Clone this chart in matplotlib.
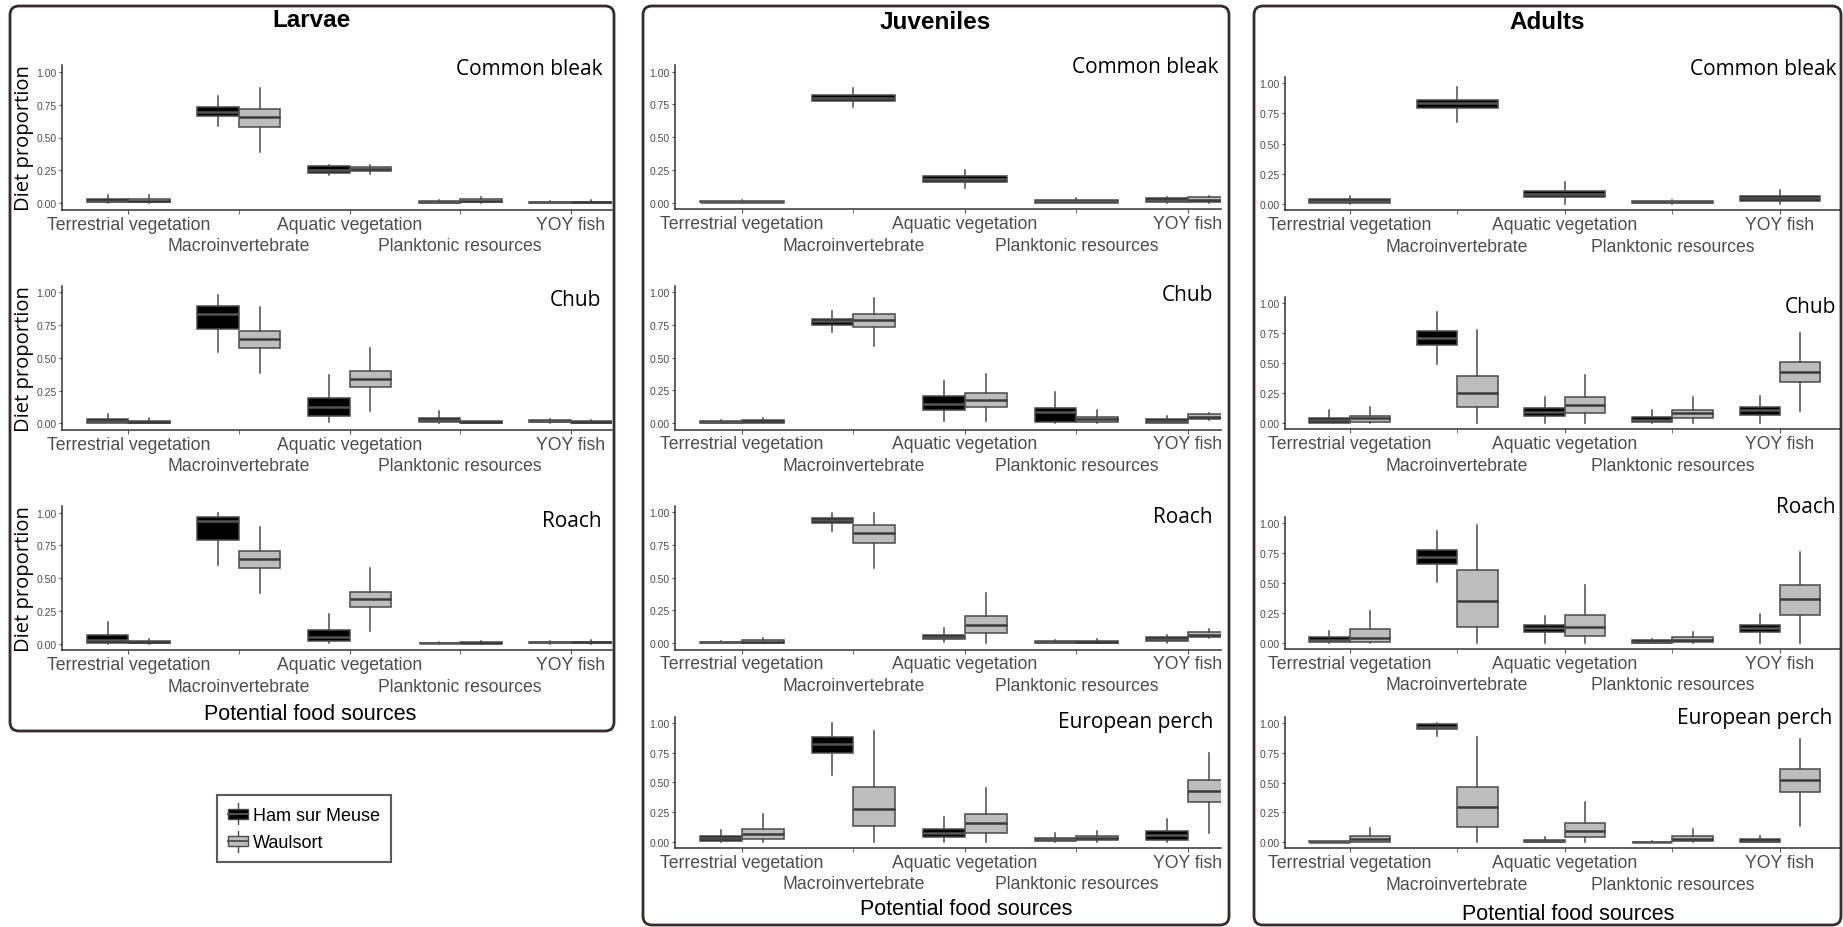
import matplotlib.pyplot as plt
from matplotlib.patches import FancyBboxPatch, Rectangle
from matplotlib.legend_handler import HandlerBase
from matplotlib.lines import Line2D

W, H = 1843, 928

sources = ["Terrestrial vegetation", "Macroinvertebrate", "Aquatic vegetation",
           "Planktonic resources", "YOY fish"]
sites = ["Ham sur Meuse", "Waulsort"]
stages = ["Larvae", "Juveniles", "Adults"]

# one row per food source: whisker low, q1, median, q3, whisker high
larvae_bleak_ham = [[0, 0.008, 0.02, 0.03, 0.06], [0.585, 0.666, 0.696, 0.729, 0.818],
                    [0.215, 0.23, 0.256, 0.281, 0.29], [0, 0.003, 0.01, 0.02, 0.025],
                    [0, 0.003, 0.007, 0.012, 0.02]]
larvae_bleak_waul = [[0, 0.008, 0.02, 0.03, 0.065], [0.387, 0.582, 0.653, 0.716, 0.876],
                     [0.223, 0.248, 0.262, 0.273, 0.294], [0, 0.008, 0.018, 0.033, 0.05],
                     [0, 0.004, 0.008, 0.013, 0.022]]
larvae_chub_ham = [[0, 0.003, 0.018, 0.033, 0.071], [0.547, 0.72, 0.835, 0.898, 0.98],
                   [0.008, 0.059, 0.122, 0.196, 0.372], [0, 0.008, 0.025, 0.041, 0.092],
                   [0.003, 0.01, 0.018, 0.025, 0.03]]
larvae_chub_waul = [[0, 0, 0.01, 0.02, 0.038], [0.382, 0.573, 0.644, 0.702, 0.89],
                    [0.092, 0.275, 0.338, 0.397, 0.578], [0, 0, 0.008, 0.018, 0.02],
                    [0, 0.003, 0.01, 0.018, 0.025]]
larvae_roach_ham = [[0, 0.005, 0.03, 0.069, 0.168], [0.603, 0.791, 0.939, 0.964, 0.998],
                    [0.003, 0.018, 0.048, 0.104, 0.229], [0, 0.002, 0.005, 0.008, 0.012],
                    [0, 0.005, 0.01, 0.015, 0.02]]
larvae_roach_waul = [[0, 0.003, 0.012, 0.023, 0.036], [0.384, 0.575, 0.646, 0.707, 0.893],
                     [0.094, 0.277, 0.338, 0.397, 0.578], [0, 0.003, 0.007, 0.012, 0.018],
                     [0, 0.005, 0.01, 0.016, 0.025]]

juv_bleak_ham = [[0, 0.003, 0.008, 0.015, 0.02], [0.728, 0.779, 0.80, 0.824, 0.875],
                 [0.109, 0.155, 0.18, 0.206, 0.249], [0, 0, 0.01, 0.02, 0.036],
                 [0, 0.005, 0.02, 0.036, 0.046]]
juv_bleak_waul = [None, None, None, None, [0, 0.005, 0.022, 0.04, 0.053]]
juv_chub_ham = [[0, 0, 0.008, 0.018, 0.025], [0.694, 0.75, 0.783, 0.796, 0.86],
                [0.013, 0.099, 0.145, 0.204, 0.324], [0, 0.01, 0.087, 0.112, 0.235],
                [0, 0, 0.015, 0.031, 0.056]]
juv_chub_waul = [[0, 0.003, 0.012, 0.023, 0.038], [0.592, 0.732, 0.788, 0.832, 0.954],
                 [0.013, 0.125, 0.176, 0.227, 0.375], [0, 0.008, 0.031, 0.048, 0.102],
                 [0.02, 0.031, 0.048, 0.066, 0.077]]
juv_roach_ham = [[0, 0.001, 0.005, 0.01, 0.015], [0.855, 0.918, 0.939, 0.957, 0.992],
                 [0.005, 0.028, 0.046, 0.064, 0.112], [0, 0, 0.008, 0.018, 0.025],
                 [0, 0.013, 0.031, 0.043, 0.061]]
juv_roach_waul = [[0, 0, 0.01, 0.02, 0.036], [0.574, 0.765, 0.842, 0.903, 0.995],
                  [0.003, 0.077, 0.135, 0.204, 0.385], [0, 0.002, 0.01, 0.018, 0.028],
                  [0.036, 0.043, 0.064, 0.082, 0.105]]
juv_perch_ham = [[0, 0.011, 0.034, 0.053, 0.103], [0.561, 0.749, 0.818, 0.877, 0.997],
                 [0, 0.045, 0.078, 0.109, 0.207], [0, 0.006, 0.022, 0.036, 0.073],
                 [0, 0.017, 0.056, 0.089, 0.19]]
juv_perch_waul = [[0, 0.022, 0.064, 0.109, 0.232], [0, 0.137, 0.279, 0.458, 0.933],
                  [0, 0.078, 0.156, 0.235, 0.453], [0, 0.014, 0.034, 0.053, 0.095],
                  [0.073, 0.338, 0.43, 0.52, 0.746]]

adult_bleak_ham = [[0, 0.008, 0.025, 0.039, 0.069], [0.682, 0.793, 0.834, 0.865, 0.967],
                   [0.003, 0.055, 0.086, 0.11, 0.182], [0, 0.006, 0.015, 0.025, 0.036],
                   [0, 0.022, 0.047, 0.069, 0.119]]
adult_bleak_waul = [None, None, None, None, None]
adult_chub_ham = [[0, 0.006, 0.028, 0.044, 0.111], [0.494, 0.653, 0.711, 0.767, 0.931],
                  [0, 0.061, 0.094, 0.128, 0.222], [0, 0.008, 0.031, 0.05, 0.111],
                  [0, 0.072, 0.108, 0.139, 0.231]]
adult_chub_waul = [[0, 0.014, 0.042, 0.064, 0.133], [0, 0.133, 0.253, 0.397, 0.778],
                   [0, 0.089, 0.15, 0.217, 0.403], [0, 0.042, 0.083, 0.114, 0.217],
                   [0.1, 0.342, 0.431, 0.508, 0.75]]
adult_roach_ham = [[0, 0.003, 0.025, 0.045, 0.095], [0.504, 0.66, 0.716, 0.774, 0.936],
                   [0, 0.086, 0.12, 0.15, 0.226], [0, 0, 0.01, 0.02, 0.03],
                   [0, 0.086, 0.12, 0.15, 0.24]]
adult_roach_waul = [[0, 0.008, 0.042, 0.114, 0.262], [0, 0.134, 0.351, 0.604, 0.983],
                    [0, 0.058, 0.131, 0.234, 0.485], [0, 0.008, 0.025, 0.045, 0.092],
                    [0, 0.234, 0.365, 0.482, 0.76]]
adult_perch_ham = [[0, 0, 0.005, 0.011, 0.012], [0.894, 0.95, 0.969, 0.992, 1.0],
                   [0, 0.003, 0.013, 0.022, 0.042], [0, 0, 0.003, 0.006, 0.01],
                   [0, 0, 0.014, 0.025, 0.05]]
adult_perch_waul = [[0, 0.006, 0.028, 0.056, 0.117], [0, 0.126, 0.293, 0.461, 0.885],
                    [0, 0.045, 0.095, 0.162, 0.335], [0, 0.008, 0.031, 0.056, 0.112],
                    [0.14, 0.419, 0.525, 0.615, 0.866]]

panels = {
    "Larvae": [("Common bleak", larvae_bleak_ham, larvae_bleak_waul),
               ("Chub", larvae_chub_ham, larvae_chub_waul),
               ("Roach", larvae_roach_ham, larvae_roach_waul)],
    "Juveniles": [("Common bleak", juv_bleak_ham, juv_bleak_waul),
                  ("Chub", juv_chub_ham, juv_chub_waul),
                  ("Roach", juv_roach_ham, juv_roach_waul),
                  ("European perch", juv_perch_ham, juv_perch_waul)],
    "Adults": [("Common bleak", adult_bleak_ham, adult_bleak_waul),
               ("Chub", adult_chub_ham, adult_chub_waul),
               ("Roach", adult_roach_ham, adult_roach_waul),
               ("European perch", adult_perch_ham, adult_perch_waul)],
}

# layout in output pixels (x from left, y from top)
frame = {"Larvae": (10, 7, 614, 732), "Juveniles": (643, 7, 1229, 926),
         "Adults": (1254, 7, 1841, 926)}
head = {"Larvae": (312, 21), "Juveniles": (935, 23), "Adults": (1547, 23)}
xaxis = {"Larvae": (62, 612, 110.6), "Juveniles": (675, 1221, 111.5),
         "Adults": (1285, 1840, 107.6)}
rows = {"Larvae": [(72.7, 204.3), (293.3, 424.3), (513.7, 644.7)],
        "Juveniles": [(72.7, 203.7), (293.3, 424), (513.3, 644), (723.7, 843)],
        "Adults": [(84.3, 205), (304.3, 424.3), (524, 643.7), (724, 843.3)]}
species_xy = {"Larvae": [(603, 70), (601, 301), (602, 521.7)],
              "Juveniles": [(1218, 68), (1213, 296), (1213, 517.7), (1213, 723)],
              "Adults": [(1836, 70), (1836, 308), (1836, 508), (1832, 719)]}
xlab_xy = {"Larvae": (310, 715), "Juveniles": (966, 910), "Adults": (1568, 915)}

fill = {"Ham sur Meuse": "#000000", "Waulsort": "#bdbdbd"}
edge = "#4a4a4a"
grey_txt = "#4d4d4d"

fig = plt.figure(figsize=(W / 100, H / 100), dpi=100)
inch = fig.dpi_scale_trans


def pos(x, y):
    return x / 100, (H - y) / 100


def as_stats(row):
    return dict(whislo=row[0], q1=row[1], med=row[2], q3=row[3], whishi=row[4])


def draw_boxes(ax, stats, positions, widths, color):
    ax.bxp(stats, positions=positions, widths=widths, patch_artist=True,
           showfliers=False, showcaps=False, manage_ticks=False,
           boxprops=dict(facecolor=color, edgecolor=edge, linewidth=1.1),
           medianprops=dict(color="#3a3a3a" if color != "#000000" else "#555555", linewidth=1.8),
           whiskerprops=dict(color=edge, linewidth=1.1))


for stage in stages:
    x0, y0, x1, y1 = frame[stage]
    fig.add_artist(FancyBboxPatch(pos(x0, y1), (x1 - x0) / 100, (y1 - y0) / 100,
                                  boxstyle="round,pad=0,rounding_size=0.09",
                                  transform=inch, fill=False, edgecolor="#3b2a2a",
                                  linewidth=2.0))
    hx, hy = head[stage]
    fig.text(*pos(hx, hy), stage, transform=inch, ha="center", va="center",
             fontsize=17.5, fontweight="bold", family="Liberation Sans")
    lx, rx, step = xaxis[stage]
    for k, (species, ham, waul) in enumerate(panels[stage]):
        ytop, ybot = rows[stage][k]
        span = ybot - ytop
        top = ytop - 0.05 * span
        bot = ybot + 0.05 * span
        ax = fig.add_axes([lx / W, 1 - bot / H, (rx - lx) / W, (bot - top) / H])
        ax.set_xlim(0.4, 0.4 + (rx - lx) / step)
        ax.set_ylim(-0.05, 1.05)
        ax.patch.set_alpha(0)
        for i in range(len(sources)):
            if waul[i] is None:
                draw_boxes(ax, [as_stats(ham[i])], [i + 1], [0.75], fill[sites[0]])
            else:
                draw_boxes(ax, [as_stats(ham[i])], [i + 1 - 0.1875], [0.375], fill[sites[0]])
                draw_boxes(ax, [as_stats(waul[i])], [i + 1 + 0.1875], [0.375], fill[sites[1]])
        ax.set_xticks([1, 3, 5], [sources[0], sources[2], sources[4]])
        ax.set_xticks([2, 4], [sources[1], sources[3]], minor=True)
        ax.set_yticks([0, 0.25, 0.5, 0.75, 1.0], ["0.00", "0.25", "0.50", "0.75", "1.00"])
        ax.tick_params(axis="x", which="major", length=3, pad=1.2, labelsize=12.7,
                       labelcolor=grey_txt, color="#555555")
        ax.tick_params(axis="x", which="minor", length=3, pad=16.8, labelsize=12.7,
                       labelcolor=grey_txt, color="#555555")
        ax.tick_params(axis="y", length=2.5, pad=1.5, labelsize=7.5, labelcolor=grey_txt,
                       color="#555555")
        for lab in ax.get_xticklabels(which="both") + ax.get_yticklabels():
            lab.set_family("Liberation Sans")
        for side in ["top", "right"]:
            ax.spines[side].set_visible(False)
        for side in ["left", "bottom"]:
            ax.spines[side].set_color("#333333")
            ax.spines[side].set_linewidth(1.1)
        sx, sy = species_xy[stage][k]
        fig.text(*pos(sx, sy), species, transform=inch, ha="right", va="center",
                 fontsize=15, family="Open Sans")
        if stage == "Larvae":
            fig.text(*pos(24, (ytop + ybot) / 2), "Diet proportion", transform=inch,
                     rotation=90, ha="center", va="center", fontsize=14.5, family="Open Sans")
    px_, py_ = xlab_xy[stage]
    fig.text(*pos(px_, py_), "Potential food sources", transform=inch, ha="center",
             va="center", fontsize=15.5, family="Liberation Sans")


class BoxKey(HandlerBase):
    def create_artists(self, legend, orig_handle, xdescent, ydescent, width, height,
                       fontsize, trans):
        x, y = -xdescent, -ydescent
        whisk = Line2D([x + width / 2] * 2, [y - height * 0.15, y + height * 1.15],
                       color=edge, linewidth=1.0, transform=trans)
        box = Rectangle((x, y + height * 0.2), width, height * 0.6,
                        facecolor=orig_handle.get_facecolor(), edgecolor=edge,
                        linewidth=1.0, transform=trans)
        med = Line2D([x, x + width], [y + height / 2] * 2, color="#555555",
                     linewidth=1.4, transform=trans)
        return [whisk, box, med]


handles = [Rectangle((0, 0), 1, 1, facecolor=fill[s]) for s in sites]
leg = fig.legend(handles, sites, handler_map={Rectangle: BoxKey()},
                 loc="upper left", bbox_to_anchor=(217 / W, 1 - 796 / H),
                 borderaxespad=0, frameon=True, fancybox=False, handlelength=1.1,
                 handleheight=1.0, handletextpad=0.3, labelspacing=0.5,
                 borderpad=0.6, prop={"family": "Liberation Sans", "size": 13})
leg.get_frame().set_edgecolor("#333333")
leg.get_frame().set_linewidth(1.5)

fig.savefig("out.png", dpi=100)
